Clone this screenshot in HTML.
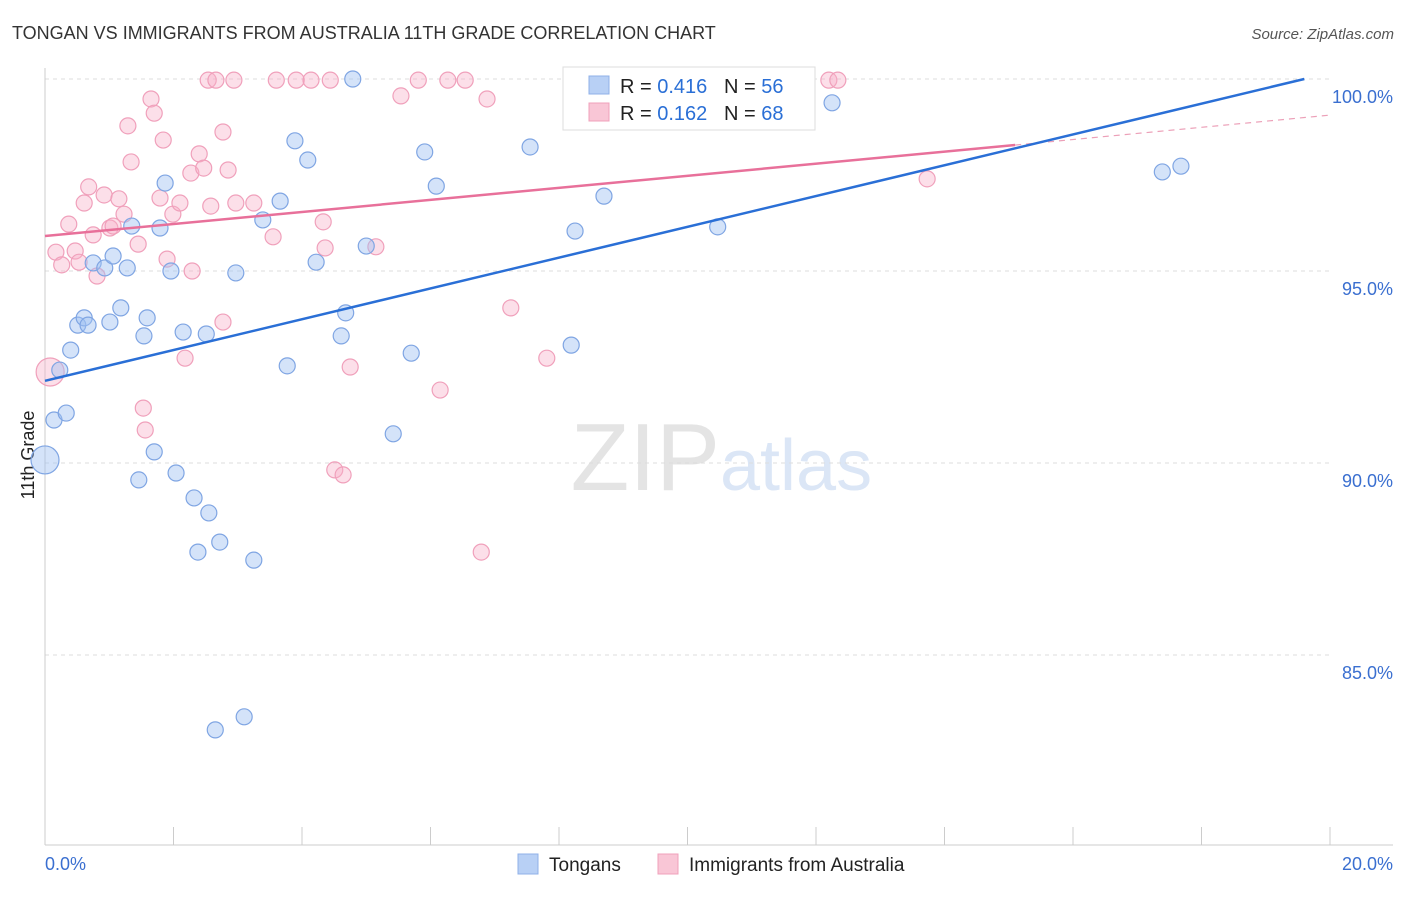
<!DOCTYPE html>
<html><head><meta charset="utf-8"><style>
body{margin:0;background:#fff;font-family:"Liberation Sans",sans-serif}
svg text{font-family:"Liberation Sans",sans-serif}
</style></head><body>
<svg id="c" width="1406" height="892">
<text x="12" y="39" font-size="18" fill="#333">TONGAN VS IMMIGRANTS FROM AUSTRALIA 11TH GRADE CORRELATION CHART</text>
<text x="1394" y="39" font-size="15" fill="#555" font-style="italic" text-anchor="end">Source: ZipAtlas.com</text>
<text x="720" y="490" font-size="96" fill="#e4e4e4" text-anchor="end" font-family="Liberation Serif">ZIP</text>
<text x="720" y="490" font-size="72" fill="#dbe6f6">atlas</text>
<text x="34" y="455" font-size="18" fill="#222" text-anchor="middle" transform="rotate(-90 34 455)">11th Grade</text>
<g id="grid"></g><g id="pts"></g><g id="lines"></g>
<g>
<rect x="563" y="67" width="252" height="63" fill="#fff" stroke="#ddd"/>
<rect x="589" y="76" width="20" height="18" fill="#b8d0f5" stroke="#8fb0e8"/>
<rect x="589" y="103" width="20" height="18" fill="#f9c6d6" stroke="#f0a0bb"/>
<text x="620" y="93" font-size="20" fill="#222">R = <tspan fill="#2a6fd6">0.416</tspan>&#160;&#160;&#160;N = <tspan fill="#2a6fd6">56</tspan></text>
<text x="620" y="120" font-size="20" fill="#222">R = <tspan fill="#2a6fd6">0.162</tspan>&#160;&#160;&#160;N = <tspan fill="#2a6fd6">68</tspan></text>
</g>
<g>
<rect x="518" y="854" width="20" height="20" fill="#b8d0f5" stroke="#8fb0e8"/>
<text x="549" y="871" font-size="19" fill="#222">Tongans</text>
<text x="689" y="871" font-size="19" fill="#222">Immigrants from Australia</text>
<rect x="658" y="854" width="20" height="20" fill="#f9c6d6" stroke="#f0a0bb"/>
</g>
</svg>
<script>
const yTicks=[100,95,90,85];
const yTickLabels=["100.0%","95.0%","90.0%","85.0%"];
const xTickLabels=["0.0%","20.0%"];
const blueX=[0,0.14,0.33,0.23,0.40,0.51,0.61,0.67,0.75,0.93,1.01,1.06,1.18,1.28,1.35,1.54,1.59,1.70,1.46,1.79,1.87,1.96,2.04,2.15,2.32,2.38,2.51,2.55,2.72,2.65,2.97,3.10,3.25,3.39,3.66,3.77,3.89,4.09,4.22,4.61,4.68,4.79,5.00,5.42,5.70,5.91,6.09,7.55,8.19,8.25,8.70,10.47,12.25,17.39,17.68];
const blueY=[90.08,91.12,91.30,92.42,92.94,93.59,93.78,93.59,95.21,95.08,93.67,95.39,94.04,95.08,96.17,93.31,93.78,90.29,89.56,96.12,97.29,95.0,89.74,93.41,89.09,87.68,93.36,88.70,87.94,83.05,94.95,83.39,87.47,96.33,96.82,92.53,98.39,97.89,95.23,93.31,93.91,100,95.65,90.76,92.86,98.10,97.21,98.23,93.07,96.04,96.95,96.15,99.38,97.58,97.73];
const pinkX=[0.08,0.17,0.26,0.37,0.47,0.53,0.61,0.68,0.75,0.81,0.92,1.01,1.06,1.15,1.23,1.29,1.34,1.45,1.53,1.56,1.65,1.70,1.79,1.84,1.90,1.99,2.10,2.18,2.27,2.29,2.40,2.47,2.54,2.58,2.66,2.77,2.77,2.85,2.94,2.97,3.25,3.55,3.60,3.91,4.14,4.33,4.36,4.44,4.51,4.64,4.75,5.15,5.54,5.81,6.15,6.27,6.54,6.79,6.88,7.25,7.81,12.20,12.34,13.73];
const pinkY=[92.37,95.49,95.16,96.22,95.52,95.23,96.77,97.19,95.94,94.87,96.98,96.12,96.17,96.88,96.48,98.78,97.84,95.70,91.43,90.86,99.48,99.11,96.90,98.41,95.31,96.48,96.77,92.73,97.55,95.0,98.05,97.68,99.97,96.69,99.97,98.62,93.67,97.63,99.97,96.77,96.77,95.89,99.97,99.97,99.97,96.28,95.60,99.97,89.82,89.69,92.50,95.63,99.56,99.97,91.90,99.97,99.97,87.68,99.48,94.04,92.73,99.97,99.97,97.40];
const blueTrend=[[0,92.14],[19.6,100]];
const pinkTrend=[[0,95.91],[15.1,98.28]];
const pinkDash=[[15.1,98.28],[20,99.06]];
const X0=45,X1=1330,YB=845;
const sx=v=>X0+(X1-X0)*v/20;
const sy=v=>79+(100-v)*38.4;
const NS="http://www.w3.org/2000/svg";
function mk(p,t,a){const e=document.createElementNS(NS,t);for(const k in a)e.setAttribute(k,a[k]);p.appendChild(e);return e;}
const g=document.getElementById('grid');
yTicks.forEach((t,i)=>{
 const l=mk(g,'line',{x1:X0,x2:X1,y1:sy(t),y2:sy(t),stroke:'#ddd','stroke-dasharray':'4,4'});
 
 
 const tx=mk(g,'text',{x:1393,y:sy(t)+24,'font-size':18,fill:'#3a6fd0','text-anchor':'end'});
 tx.textContent=yTickLabels[i];
 
 
});
const ax=mk(g,'line',{x1:X0,x2:X0,y1:68,y2:YB,stroke:'#ccc'});


const bx=mk(g,'line',{x1:X0,x2:1393,y1:YB,y2:YB,stroke:'#ccc'});


for(let i=0;i<=10;i++){const t=mk(g,'line',{x1:sx(i*2),x2:sx(i*2),y1:YB,y2:i==0?YB:YB-18,stroke:'#ccc'});
 
 }
[[0,'start',45],[20,'end',1393]].forEach((d,i)=>{const t=mk(g,'text',{x:d[2],y:870,'font-size':18,fill:'#3a6fd0','text-anchor':d[1]});t.textContent=xTickLabels[i];
 
 });
const P=document.getElementById('pts');
function pts(xs,ys,fill,stroke,name){xs.forEach((x,i)=>{const c=mk(P,'circle',{cx:sx(x),cy:sy(ys[i]),r:i==0?14:8,fill:fill,stroke:stroke,'stroke-width':1.2});
 
 });}
pts(pinkX,pinkY,'rgba(247,175,200,0.4)','#f0a0bb','point-australia');
pts(blueX,blueY,'rgba(160,192,242,0.45)','#7fa5e3','point-tongan');
const L=document.getElementById('lines');
function ln(d,col,w,dash,name){const a={x1:sx(d[0][0]),y1:sy(d[0][1]),x2:sx(d[1][0]),y2:sy(d[1][1]),stroke:col,'stroke-width':w};if(dash)a['stroke-dasharray']=dash;const l=mk(L,'line',a);
 
 }
ln(pinkTrend,'#e8709a',2.5,null,'trend-australia');
ln(pinkDash,'#eca0b8',1.2,'6,5','trend-australia-extension');
ln(blueTrend,'#2a6fd6',2.5,null,'trend-tongans');
</script>
</body></html>
